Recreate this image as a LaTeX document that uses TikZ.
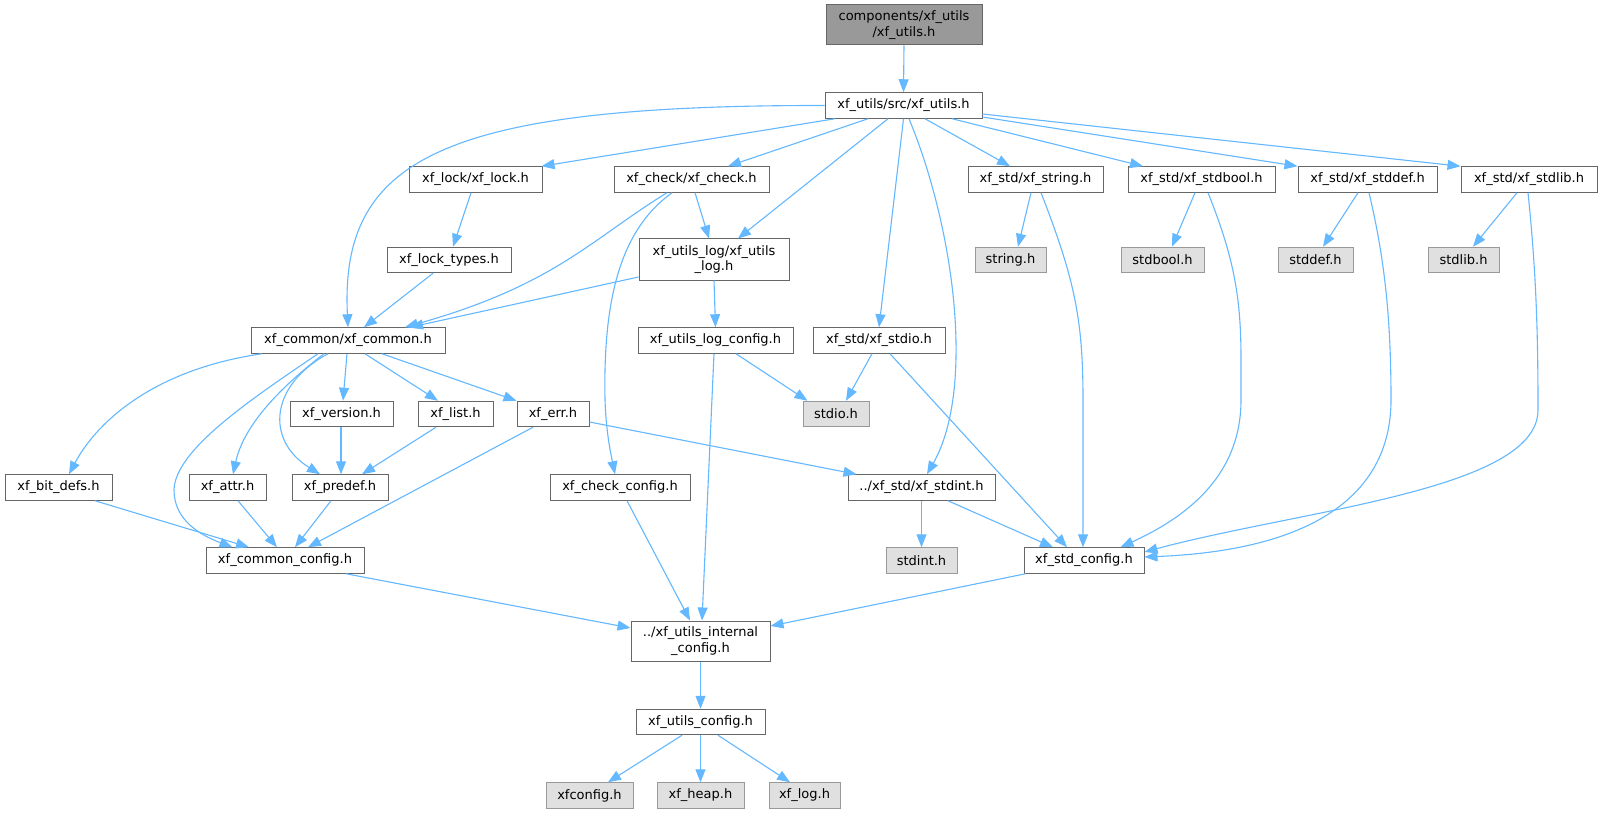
\documentclass[tikz,border=0pt]{standalone}
\usepackage{fontspec}
\setmainfont{DejaVu Sans}
\usetikzlibrary{arrows.meta}
\definecolor{edgec}{HTML}{63B8FF}
\definecolor{nodeb}{HTML}{666666}
\definecolor{rootf}{HTML}{999999}
\definecolor{extf}{HTML}{E0E0E0}
\definecolor{extb}{HTML}{999999}
\begin{document}
\begin{tikzpicture}[x=1pt,y=-1pt,
  every node/.style={font=\fontsize{13}{15.5}\selectfont},
  nbox/.style={draw=nodeb, fill=white, line width=1pt, inner sep=0pt, minimum height=25.5pt, align=center},
  rbox/.style={nbox, fill=rootf},
  xbox/.style={nbox, draw=extb, fill=extf},
  dep/.style={draw=edgec, line width=1.1pt, -{Triangle[length=13pt,width=10pt]}}]
\useasboundingbox (0,0) rectangle (1601,813);
\fill[white] (0,0) rectangle (1601,813);
% nodes
\node[rbox, minimum width=156pt, minimum height=40pt] (root) at (904,25) {components/xf\_utils\\/xf\_utils.h};
\node[nbox, minimum width=157pt] (S) at (903.5,105.5) {xf\_utils/src/xf\_utils.h};
\node[nbox, minimum width=133pt] (lock) at (475.5,179.5) {xf\_lock/xf\_lock.h};
\node[nbox, minimum width=155pt] (check) at (691.5,179.5) {xf\_check/xf\_check.h};
\node[nbox, minimum width=135pt] (string) at (1035.5,179.5) {xf\_std/xf\_string.h};
\node[nbox, minimum width=147pt] (stdbool) at (1201.5,179.5) {xf\_std/xf\_stdbool.h};
\node[nbox, minimum width=139pt] (stddef) at (1367.5,179.5) {xf\_std/xf\_stddef.h};
\node[nbox, minimum width=136pt] (stdlib) at (1529,179.5) {xf\_std/xf\_stdlib.h};
\node[nbox, minimum width=124pt] (locktypes) at (449,260) {xf\_lock\_types.h};
\node[nbox, minimum width=150pt, minimum height=41pt] (ulog) at (714,259.5) {xf\_utils\_log/xf\_utils\\\_log.h};
\node[xbox, minimum width=71pt] (stringh) at (1010.5,260) {string.h};
\node[xbox, minimum width=83pt] (stdboolh) at (1162.5,260) {stdbool.h};
\node[xbox, minimum width=75pt] (stddefh) at (1315.5,260) {stddef.h};
\node[xbox, minimum width=71pt] (stdlibh) at (1463.5,260) {stdlib.h};
\node[nbox, minimum width=194pt] (common) at (348,340.5) {xf\_common/xf\_common.h};
\node[nbox, minimum width=155pt] (ulogcfg) at (715.5,340.5) {xf\_utils\_log\_config.h};
\node[nbox, minimum width=132pt] (stdio) at (879,340.5) {xf\_std/xf\_stdio.h};
\node[nbox, minimum width=103pt] (version) at (341.5,414) {xf\_version.h};
\node[nbox, minimum width=75pt] (list) at (455.5,414) {xf\_list.h};
\node[nbox, minimum width=72pt] (err) at (553,414) {xf\_err.h};
\node[xbox, minimum width=66pt] (stdioh) at (836,414) {stdio.h};
\node[nbox, minimum width=107pt] (bitdefs) at (58.5,487.5) {xf\_bit\_defs.h};
\node[nbox, minimum width=77pt] (attr) at (227.5,487.5) {xf\_attr.h};
\node[nbox, minimum width=96pt] (predef) at (340,487.5) {xf\_predef.h};
\node[nbox, minimum width=140pt] (checkcfg) at (620,487.5) {xf\_check\_config.h};
\node[nbox, minimum width=147pt] (stdint) at (921.5,487.5) {../xf\_std/xf\_stdint.h};
\node[nbox, minimum width=158pt] (commoncfg) at (285,560.5) {xf\_common\_config.h};
\node[xbox, minimum width=71pt] (stdinth) at (921.5,560.5) {stdint.h};
\node[nbox, minimum width=120pt] (stdcfg) at (1084,560.5) {xf\_std\_config.h};
\node[nbox, minimum width=139pt, minimum height=40pt] (internal) at (700.5,641) {../xf\_utils\_internal\\\_config.h};
\node[nbox, minimum width=129pt] (ucfg) at (700.5,722) {xf\_utils\_config.h};
\node[xbox, minimum width=87pt] (xfconfig) at (589.5,795.5) {xfconfig.h};
\node[xbox, minimum width=87pt] (heap) at (700.5,795.5) {xf\_heap.h};
\node[xbox, minimum width=71pt] (xflog) at (804.5,795.5) {xf\_log.h};
% edges
\draw[dep] (root.south) -- (S.north);
\draw[dep] (S.west) .. controls (440,105) and (340,160) .. (common.north);
\draw[dep] ([xshift=-68.5pt]S.south) -- ([xshift=-1pt]lock.north east);
\draw[dep] ([xshift=-35.5pt]S.south) -- ([xshift=36.5pt]check.north);
\draw[dep] ([xshift=-15.5pt]S.south) -- ([xshift=24pt]ulog.north);
\draw[dep] (S.south) -- (stdio.north);
\draw[dep] ([xshift=5.5pt]S.south) .. controls (955,230) and (975,390) .. ([xshift=5.5pt]stdint.north);
\draw[dep] ([xshift=21.5pt]S.south) -- ([xshift=-25.5pt]string.north);
\draw[dep] ([xshift=48.5pt]S.south) -- ([xshift=-58.5pt]stdbool.north);
\draw[dep] ([yshift=-11.5pt]S.east) -- (stddef.north west);
\draw[dep] ([yshift=-8.5pt]S.east) -- (stdlib.north west);
\draw[dep] ([xshift=-4.5pt]lock.south) -- ([xshift=4pt]locktypes.north);
\draw[dep] ([xshift=-16pt]locktypes.south) -- ([xshift=16pt]common.north);
\draw[dep] ([xshift=-24.5pt]check.south) .. controls (590,240) and (555,285) .. ([xshift=57pt]common.north);
\draw[dep] ([xshift=3.5pt]check.south) -- ([xshift=-5pt]ulog.north);
\draw[dep] ([xshift=-19.5pt]check.south) .. controls (620,230) and (603,300) .. (605,400) .. controls (606,430) and (610,450) .. ([xshift=-5pt]checkcfg.north);
\draw[dep] ([yshift=-17.5pt]ulog.west) -- ([xshift=62pt]common.north);
\draw[dep] (ulog.south) -- (ulogcfg.north);
\draw[dep] ([xshift=20.5pt]ulogcfg.south) -- ([xshift=5pt]stdioh.north west);
\draw[dep] ([xshift=-1.5pt]ulogcfg.south) -- ([xshift=1.5pt]internal.north);
\draw[dep] ([xshift=-7pt]stdio.south) -- ([xshift=10pt]stdioh.north);
\draw[dep] ([xshift=11pt]stdio.south) -- ([xshift=-17pt]stdcfg.north);
\draw[dep] ([xshift=-4.5pt]string.south) -- ([xshift=7.5pt]stringh.north);
\draw[dep] ([xshift=5.5pt]string.south) .. controls (1075,280) and (1083,320) .. (1083,400) -- ([xshift=-1pt]stdcfg.north);
\draw[dep] ([xshift=-6.5pt]stdbool.south) -- ([xshift=9.5pt]stdboolh.north);
\draw[dep] ([xshift=6.5pt]stdbool.south) .. controls (1235,260) and (1241,300) .. (1241,360) -- (1241,400) .. controls (1241,480) and (1180,520) .. ([xshift=-24pt]stdcfg.north east);
\draw[dep] ([xshift=-9.5pt]stddef.south) -- ([xshift=7.5pt]stddefh.north);
\draw[dep] ([xshift=1.5pt]stddef.south) .. controls (1385,260) and (1391,320) .. (1391,400) .. controls (1391,490) and (1320,550) .. ([yshift=3.5pt]stdcfg.east);
\draw[dep] ([xshift=-12pt]stdlib.south) -- ([xshift=9.5pt]stdlibh.north);
\draw[dep] ([xshift=-1pt]stdlib.south) .. controls (1536,270) and (1538,330) .. (1538,410) .. controls (1538,490) and (1300,510) .. ([yshift=8.5pt]stdcfg.east);
\draw[dep] ([xshift=-86pt]common.south) .. controls (150,370) and (95,425) .. ([xshift=10.5pt]bitdefs.north);
\draw[dep] ([xshift=-30pt]common.south) .. controls (250,400) and (175,450) .. (174,490) .. controls (174,520) and (200,535) .. ([xshift=27pt]commoncfg.north west);
\draw[dep] ([xshift=-24pt]common.south) .. controls (290,380) and (245,420) .. ([xshift=5.5pt]attr.north);
\draw[dep] ([xshift=-20pt]common.south) .. controls (270,385) and (265,440) .. ([xshift=-20pt]predef.north);
\draw[dep] ([xshift=-1pt]common.south) -- ([xshift=1.5pt]version.north);
\draw[dep] ([xshift=17pt]common.south) -- ([xshift=-17.5pt]list.north);
\draw[dep] ([xshift=34pt]common.south) -- (err.north west);
\draw[dep] ([xshift=-0.5pt]version.south) -- ([xshift=1pt]predef.north);
\draw[dep] ([xshift=-19.5pt]list.south) -- ([xshift=22pt]predef.north);
\draw[dep] ([xshift=-20pt]err.south) -- ([xshift=23pt]commoncfg.north);
\draw[dep] ([yshift=-8pt]err.east) -- ([xshift=9pt]stdint.north west);
\draw[dep] ([xshift=36.5pt]bitdefs.south) -- ([xshift=-36pt]commoncfg.north);
\draw[dep] ([xshift=10.5pt]attr.south) -- ([xshift=-8pt]commoncfg.north);
\draw[dep] ([xshift=-9pt]predef.south) -- ([xshift=10pt]commoncfg.north);
\draw[dep] ([xshift=7pt]checkcfg.south) -- ([xshift=-10.5pt]internal.north);
\draw[dep] (stdint.south) -- (stdinth.north);
\draw[dep] ([xshift=26.5pt]stdint.south) -- ([xshift=-31pt]stdcfg.north);
\draw[dep] ([xshift=61pt]commoncfg.south) -- ([yshift=13pt]internal.west);
\draw[dep] ([xshift=2pt]stdcfg.south west) -- ([yshift=15pt]internal.east);
\draw[dep] (internal.south) -- (ucfg.north);
\draw[dep] ([xshift=-18.5pt]ucfg.south) -- ([xshift=18.5pt]xfconfig.north);
\draw[dep] (ucfg.south) -- (heap.north);
\draw[dep] ([xshift=17.5pt]ucfg.south) -- ([xshift=-14.5pt]xflog.north);
\end{tikzpicture}
\end{document}
